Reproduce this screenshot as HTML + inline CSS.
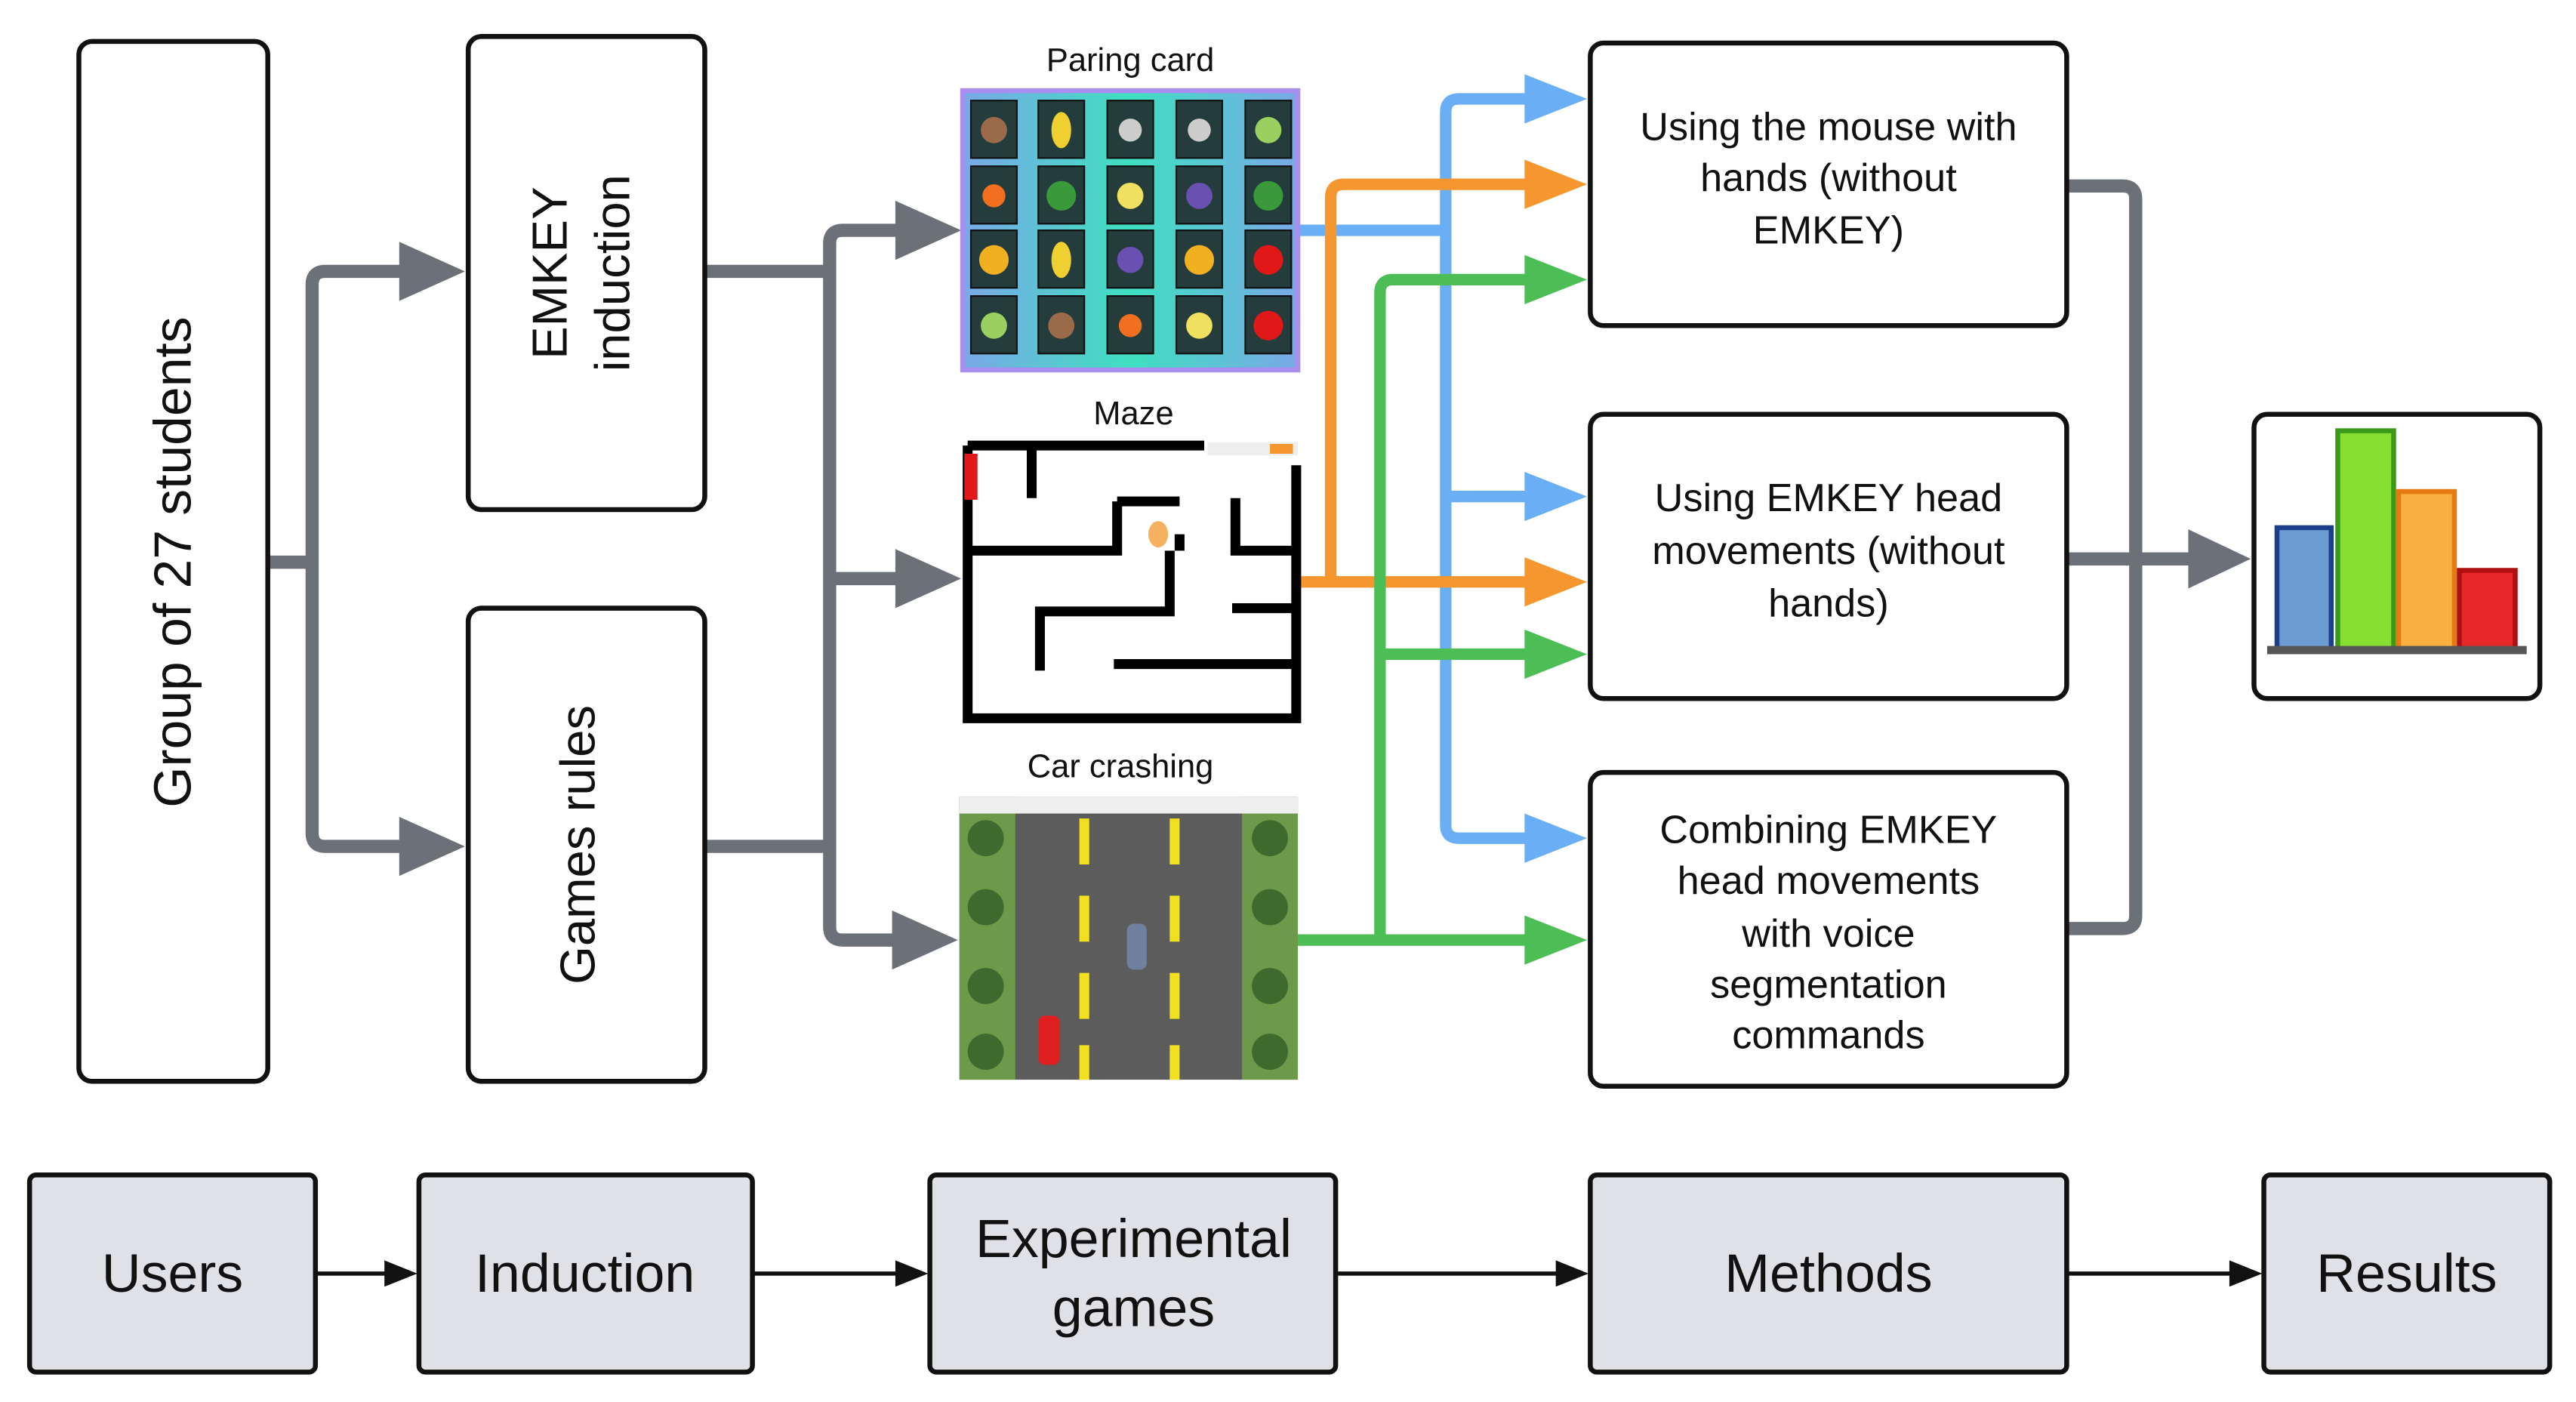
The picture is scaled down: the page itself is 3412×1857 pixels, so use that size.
<!DOCTYPE html>
<html><head><meta charset="utf-8"><style>
html,body{margin:0;padding:0;background:#fff;}
svg{display:block;}
text{font-family:"Liberation Sans",sans-serif;fill:#111;}
</style></head><body>
<svg width="3412" height="1857" viewBox="0 0 1568 853" xmlns="http://www.w3.org/2000/svg">
<rect width="1568" height="853" fill="#fff"/>
<!-- gray connectors -->
<g fill="none" stroke="#6b7079" stroke-width="8" stroke-linejoin="round">
<path d="M163 342 H190 M245 165 H198 Q190 165 190 173 V507 Q190 515 198 515 H245"/>
<path d="M429 165 H505 M429 515 H505 M548 140 H513 Q505 140 505 148 V564 Q505 572 513 572 H548 M505 352 H548"/>
<path d="M1258 113 H1292 Q1300 113 1300 121 V557 Q1300 565 1292 565 H1258 M1258 340 H1335"/>
</g>
<g fill="#6b7079">
<polygon points="283,165 243,147 243,183"/>
<polygon points="283,515 243,497 243,533"/>
<polygon points="585,140 545,122 545,158"/>
<polygon points="585,352 545,334 545,370"/>
<polygon points="583,572 543,554 543,590"/>
<polygon points="1370,340 1332,322 1332,358"/>
</g>
<!-- colored connectors -->
<g fill="none" stroke-width="7" stroke-linejoin="round">
<path stroke="#6aaef5" d="M790 140 H880 M930 60 H888 Q880 60 880 68 V502 Q880 510 888 510 H930 M880 302 H930"/>
<path stroke="#f5962e" d="M792 354 H810 M930 112 H818 Q810 112 810 120 V354 H930"/>
<path stroke="#4dbd55" d="M790 572 H930 M930 170 H848 Q840 170 840 178 V572 M840 398 H930"/>
</g>
<g>
<polygon fill="#6aaef5" points="966,60 928,45 928,75"/>
<polygon fill="#6aaef5" points="966,302 928,287 928,317"/>
<polygon fill="#6aaef5" points="966,510 928,495 928,525"/>
<polygon fill="#f5962e" points="966,112 928,97 928,127"/>
<polygon fill="#f5962e" points="966,354 928,339 928,369"/>
<polygon fill="#4dbd55" points="966,170 928,155 928,185"/>
<polygon fill="#4dbd55" points="966,398 928,383 928,413"/>
<polygon fill="#4dbd55" points="966,572 928,557 928,587"/>
</g>
<!-- main boxes -->
<g fill="#fff" stroke="#111" stroke-width="3">
<rect x="48" y="25" width="115" height="633" rx="8"/>
<rect x="285" y="22" width="144" height="288" rx="8"/>
<rect x="285" y="370" width="144" height="288" rx="8"/>
<rect x="968" y="26" width="290" height="172" rx="8"/>
<rect x="968" y="252" width="290" height="173" rx="8"/>
<rect x="968" y="470" width="290" height="191" rx="8"/>
<rect x="1372" y="252" width="174" height="173" rx="8"/>
</g>
<text transform="translate(116,342) rotate(-90)" font-size="32" text-anchor="middle">Group of 27 students</text>
<text transform="translate(345,166) rotate(-90)" font-size="30" text-anchor="middle">EMKEY</text>
<text transform="translate(383,166) rotate(-90)" font-size="30" text-anchor="middle">induction</text>
<text transform="translate(362,514) rotate(-90)" font-size="30" text-anchor="middle">Games rules</text>
<g font-size="24" text-anchor="middle">
<text x="1113" y="85">Using the mouse with</text>
<text x="1113" y="116">hands (without</text>
<text x="1113" y="148">EMKEY)</text>
<text x="1113" y="311">Using EMKEY head</text>
<text x="1113" y="343">movements (without</text>
<text x="1113" y="375">hands)</text>
<text x="1113" y="513">Combining EMKEY</text>
<text x="1113" y="544">head movements</text>
<text x="1113" y="576">with voice</text>
<text x="1113" y="607">segmentation</text>
<text x="1113" y="638">commands</text>
</g>
<!-- chart -->
<rect x="1386" y="321" width="33" height="74" fill="#6b9bd1" stroke="#1c3f8a" stroke-width="3"/>
<rect x="1423" y="262" width="34" height="133" fill="#88dd33" stroke="#3c9a1a" stroke-width="3"/>
<rect x="1460" y="299" width="34" height="96" fill="#f9b040" stroke="#e47a10" stroke-width="3"/>
<rect x="1497" y="347" width="34" height="48" fill="#e82828" stroke="#b01010" stroke-width="3"/>
<rect x="1380" y="393" width="158" height="5" fill="#555"/>
<!-- labels for images -->
<g font-size="20" text-anchor="middle">
<text x="688" y="43">Paring card</text>
<text x="690" y="258">Maze</text>
<text x="682" y="473">Car crashing</text>
</g>
<!-- paring card -->
<defs><linearGradient id="pg" x1="0" x2="1"><stop offset="0" stop-color="#7aa8e8"/><stop offset="0.5" stop-color="#3ee0c0"/><stop offset="1" stop-color="#7aa8e8"/></linearGradient></defs>
<rect x="586" y="55" width="204" height="170" fill="url(#pg)" stroke="#a98ef0" stroke-width="3"/>
<g fill="#243c3c" stroke="#111" stroke-width="1">
<rect x="591" y="61" width="28" height="35"/><rect x="632" y="61" width="28" height="35"/><rect x="674" y="61" width="28" height="35"/><rect x="716" y="61" width="28" height="35"/><rect x="758" y="61" width="28" height="35"/>
<rect x="591" y="101" width="28" height="35"/><rect x="632" y="101" width="28" height="35"/><rect x="674" y="101" width="28" height="35"/><rect x="716" y="101" width="28" height="35"/><rect x="758" y="101" width="28" height="35"/>
<rect x="591" y="140" width="28" height="35"/><rect x="632" y="140" width="28" height="35"/><rect x="674" y="140" width="28" height="35"/><rect x="716" y="140" width="28" height="35"/><rect x="758" y="140" width="28" height="35"/>
<rect x="591" y="180" width="28" height="35"/><rect x="632" y="180" width="28" height="35"/><rect x="674" y="180" width="28" height="35"/><rect x="716" y="180" width="28" height="35"/><rect x="758" y="180" width="28" height="35"/>
</g>
<g>
<circle cx="605" cy="79" r="8" fill="#9a6a4a"/><ellipse cx="646" cy="79" rx="6" ry="11" fill="#f0d030"/><circle cx="688" cy="79" r="7" fill="#ccc"/><circle cx="730" cy="79" r="7" fill="#ccc"/><circle cx="772" cy="79" r="8" fill="#9ad060"/>
<circle cx="605" cy="119" r="7" fill="#f07020"/><circle cx="646" cy="119" r="9" fill="#3a9a3a"/><circle cx="688" cy="119" r="8" fill="#f0e060"/><circle cx="730" cy="119" r="8" fill="#6a50b0"/><circle cx="772" cy="119" r="9" fill="#3a9a3a"/>
<circle cx="605" cy="158" r="9" fill="#f0b020"/><ellipse cx="646" cy="158" rx="6" ry="11" fill="#f0d030"/><circle cx="688" cy="158" r="8" fill="#6a50b0"/><circle cx="730" cy="158" r="9" fill="#f0b020"/><circle cx="772" cy="158" r="9" fill="#e01818"/>
<circle cx="605" cy="198" r="8" fill="#9ad060"/><circle cx="646" cy="198" r="8" fill="#9a6a4a"/><circle cx="688" cy="198" r="7" fill="#f07020"/><circle cx="730" cy="198" r="8" fill="#f0e060"/><circle cx="772" cy="198" r="9" fill="#e01818"/>
</g>
<!-- maze -->
<rect x="586" y="268" width="206" height="172" fill="#fff"/>
<g stroke="#000" stroke-width="6" fill="none">
<path d="M589 271 H733 M789 283 V437 H589 V271"/>
<path d="M628 271 V303 M680 305 H718 M680 305 V335 H589 M752 303 V335 H789 M718 325 V335 M712 335 V372 H633 V408 M750 370 H789 M678 404 H789"/>
</g>
<rect x="587" y="276" width="8" height="28" fill="#e01818"/>
<rect x="735" y="269" width="55" height="8" fill="#eee"/><rect x="773" y="270" width="14" height="6" fill="#f5962e"/>
<ellipse cx="705" cy="325" rx="6" ry="8" fill="#f5b060"/>
<!-- car -->
<rect x="584" y="485" width="206" height="172" fill="#5c5c5c"/>
<rect x="584" y="485" width="34" height="172" fill="#6d9a4a"/>
<rect x="756" y="485" width="34" height="172" fill="#6d9a4a"/>
<g fill="#3e6a2e"><circle cx="600" cy="510" r="11"/><circle cx="600" cy="552" r="11"/><circle cx="600" cy="600" r="11"/><circle cx="600" cy="640" r="11"/><circle cx="773" cy="510" r="11"/><circle cx="773" cy="552" r="11"/><circle cx="773" cy="600" r="11"/><circle cx="773" cy="640" r="11"/></g>
<g fill="#f0e020"><rect x="657" y="498" width="6" height="28"/><rect x="657" y="545" width="6" height="28"/><rect x="657" y="592" width="6" height="28"/><rect x="657" y="636" width="6" height="21"/><rect x="712" y="498" width="6" height="28"/><rect x="712" y="545" width="6" height="28"/><rect x="712" y="592" width="6" height="28"/><rect x="712" y="636" width="6" height="21"/></g>
<rect x="584" y="485" width="206" height="10" fill="#eee"/>
<rect x="686" y="562" width="12" height="28" rx="4" fill="#7080a0"/>
<rect x="632" y="618" width="13" height="30" rx="4" fill="#e02020"/>
<!-- bottom row -->
<g fill="#dfe1e6" stroke="#111" stroke-width="3">
<rect x="18" y="715" width="174" height="120" rx="4"/>
<rect x="255" y="715" width="203" height="120" rx="4"/>
<rect x="566" y="715" width="247" height="120" rx="4"/>
<rect x="968" y="715" width="290" height="120" rx="4"/>
<rect x="1378" y="715" width="174" height="120" rx="4"/>
</g>
<g font-size="33" text-anchor="middle">
<text x="105" y="786">Users</text>
<text x="356" y="786">Induction</text>
<text x="690" y="765">Experimental</text>
<text x="690" y="807">games</text>
<text x="1113" y="786">Methods</text>
<text x="1465" y="786">Results</text>
</g>
<g stroke="#111" stroke-width="2.5"><path d="M192 775 H235 M458 775 H546 M813 775 H948 M1258 775 H1358"/></g>
<g fill="#111">
<polygon points="254,775 234,767 234,783"/>
<polygon points="565,775 545,767 545,783"/>
<polygon points="967,775 947,767 947,783"/>
<polygon points="1377,775 1357,767 1357,783"/>
</g>
</svg>
</body></html>
